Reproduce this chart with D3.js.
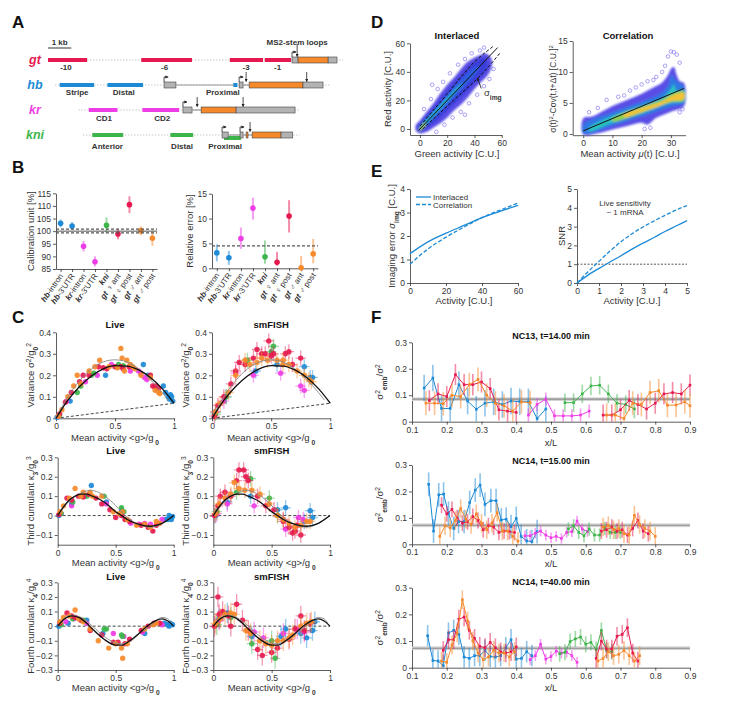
<!DOCTYPE html>
<html lang="en">
<head>
<meta charset="utf-8">
<title>Figure</title>
<style>
  body { margin:0; background:#fff; }
  svg { font-family: "Liberation Sans", Arial, Helvetica, sans-serif; }
</style>
</head>
<body>
<div id="fig"></div>
<script src="https://cdn.jsdelivr.net/npm/d3@7"></script>
<script>

////////////////////////////////////////////////// DATA

// ---- A : gene maps (kb from left origin)
const aGenes = ["gt", "hb", "kr", "kni"];
const aBackbone = { gt: [0, 12.66], hb: [0.3, 12.1], kr: [1.3, 10.8], kni: [1.5, 10.8] };
const aEnhancers = [
  { gene: "gt", s: 0.0, e: 1.7 }, { gene: "gt", s: 4.0, e: 6.2 }, { gene: "gt", s: 7.8, e: 9.25 }, { gene: "gt", s: 9.3, e: 10.45 },
  { gene: "hb", s: 0.5, e: 2.0 }, { gene: "hb", s: 2.55, e: 4.1 }, { gene: "hb", s: 7.95, e: 8.15 },
  { gene: "kr", s: 1.75, e: 3.0 }, { gene: "kr", s: 4.05, e: 5.65 },
  { gene: "kni", s: 1.9, e: 3.25 }, { gene: "kni", s: 5.25, e: 6.25 }, { gene: "kni", s: 7.55, e: 8.3, low: true }
];
const aParts = [
  { gene: "gt", t: "utr", s: 10.47, e: 10.73 }, { gene: "gt", t: "cds", s: 10.73, e: 12.02 }, { gene: "gt", t: "utr", s: 12.02, e: 12.4 },
  { gene: "hb", t: "utr", s: 4.98, e: 5.49 }, { gene: "hb", t: "intron", s: 5.49, e: 7.94 }, { gene: "hb", t: "utr", s: 8.2, e: 8.37 },
  { gene: "hb", t: "intron", s: 8.37, e: 8.63 }, { gene: "hb", t: "cds", s: 8.63, e: 10.94 }, { gene: "hb", t: "utr", s: 10.94, e: 11.8 },
  { gene: "kr", t: "utr", s: 5.79, e: 6.18 }, { gene: "kr", t: "intron", s: 6.18, e: 6.57 }, { gene: "kr", t: "cds", s: 6.57, e: 8.07 }, { gene: "kr", t: "utr", s: 8.07, e: 10.6 },
  { gene: "kni", t: "utr", s: 7.47, e: 7.73 }, { gene: "kni", t: "intron", s: 7.73, e: 8.24 }, { gene: "kni", t: "utr", s: 8.24, e: 8.37 },
  { gene: "kni", t: "intron", s: 8.37, e: 8.76 }, { gene: "kni", t: "cds", s: 8.5, e: 8.58 }, { gene: "kni", t: "cds", s: 8.76, e: 10.0 }, { gene: "kni", t: "utr", s: 10.0, e: 10.5 }
];
const aTss = [["gt", 10.47], ["hb", 4.98], ["hb", 8.2], ["kr", 5.79], ["kni", 7.47], ["kni", 8.24]];
const aMs2 = [["gt", 10.69], ["hb", 8.5], ["hb", 11.1], ["kr", 6.4], ["kr", 8.37], ["kni", 8.67]];
const aLabels = [
  ["gt", 0.77, "-10"], ["gt", 5.0, "-6"], ["gt", 8.5, "-3"], ["gt", 9.85, "-1"],
  ["hb", 1.25, "Stripe"], ["hb", 3.25, "Distal"], ["hb", 7.5, "Proximal"],
  ["kr", 2.4, "CD1"], ["kr", 4.9, "CD2"],
  ["kni", 2.55, "Anterior"], ["kni", 5.75, "Distal"], ["kni", 7.6, "Proximal"]
];

// ---- B : calibration
const bGene = ["hb", "hb", "kr", "kr", "kni", "gt ♀", "gt ♀", "gt ♂", "gt ♂"];
const bSuffix = ["-intron", "-3'UTR", "-intron", "-3'UTR", "", " ant", " post", " ant", " post"];
const bColor = ["blue", "blue", "magenta", "magenta", "green", "red", "red", "orange", "orange"];
const calibUnit = [103.1, 102.0, 94.0, 87.9, 102.3, 98.9, 110.5, 100.2, 97.2];
const calibLo = [101.6, 100.5, 91.9, 86.0, 99.3, 96.8, 107.2, 98.4, 94.2];
const calibHi = [104.6, 103.6, 96.1, 90.0, 105.4, 100.9, 113.8, 101.9, 100.2];
const calibRef = [100, 99.3, 100.8];
const relError = [3.1, 2.1, 6.0, 12.1, 2.3, 1.2, 10.5, 0.1, 2.9];
const relLo = [1.4, 0.7, 3.9, 9.8, 0.9, 0.5, 7.2, 0.0, 1.0];
const relHi = [4.8, 3.5, 8.2, 14.2, 5.6, 3.3, 13.7, 2.5, 5.9];
const relRef = 4.5;

// ---- C : cumulants [mean, value]
const varLive = {
  blue: [[0.01,0.005],[0.12,0.08],[0.42,0.2],[0.74,0.25],[0.78,0.2],[0.91,0.15],[0.93,0.12],[0.95,0.1],[0.96,0.09],[0.97,0.11],[0.98,0.1],[0.99,0.08]],
  magenta: [[0.02,0.01],[0.09,0.08],[0.25,0.17],[0.35,0.2],[0.47,0.25],[0.52,0.24],[0.63,0.22],[0.7,0.22],[0.72,0.21],[0.75,0.19],[0.77,0.18]],
  green: [[0.03,0.015],[0.18,0.12],[0.21,0.15],[0.3,0.2],[0.32,0.21],[0.53,0.25],[0.57,0.245]],
  red: [[0.03,0.02],[0.08,0.075],[0.13,0.12],[0.2,0.17],[0.23,0.2],[0.28,0.2],[0.36,0.24],[0.4,0.235],[0.43,0.23],[0.5,0.24],[0.55,0.24],[0.57,0.23],[0.62,0.24],[0.8,0.2],[0.82,0.15],[0.84,0.145],[0.85,0.15],[0.87,0.14]],
  orange: [[0.02,0.01],[0.05,0.04],[0.1,0.1],[0.15,0.15],[0.18,0.2],[0.21,0.16],[0.28,0.22],[0.33,0.24],[0.37,0.27],[0.45,0.24],[0.52,0.235],[0.55,0.325],[0.56,0.28],[0.58,0.22],[0.6,0.27],[0.63,0.25],[0.65,0.24],[0.67,0.23],[0.72,0.2],[0.8,0.19],[0.84,0.13],[0.87,0.12],[0.88,0.115]]
};
const varFish = {
  blue: [[0.03,0.03],[0.12,0.1],[0.37,0.22],[0.55,0.25],[0.78,0.24],[0.83,0.19],[0.85,0.19]],
  magenta: [[0.03,0.03],[0.1,0.08],[0.2,0.21],[0.35,0.2],[0.58,0.21],[0.75,0.15],[0.78,0.13]],
  green: [[0.03,0.02],[0.12,0.1],[0.3,0.27],[0.5,0.31],[0.52,0.335]],
  red: [[0.02,0.01],[0.05,0.06],[0.1,0.1],[0.16,0.16],[0.2,0.22],[0.23,0.26],[0.28,0.25],[0.35,0.28],[0.38,0.32],[0.42,0.3],[0.45,0.3],[0.48,0.36],[0.5,0.29],[0.52,0.3],[0.62,0.3],[0.65,0.31],[0.68,0.25],[0.75,0.28]],
  orange: [[0.03,0.03],[0.07,0.07],[0.14,0.12],[0.2,0.2],[0.28,0.27],[0.32,0.25],[0.38,0.26],[0.42,0.28],[0.47,0.27],[0.55,0.27],[0.6,0.27],[0.6,0.25],[0.65,0.25],[0.72,0.22],[0.78,0.2],[0.82,0.18],[0.84,0.17]]
};
const k3Live = {
  blue: [[0.01,0.0],[0.12,0.06],[0.29,0.155],[0.42,0.07],[0.55,0.03],[0.93,-0.02],[0.95,-0.02],[0.96,0.0],[0.97,-0.01],[0.98,-0.02],[0.99,-0.005]],
  magenta: [[0.03,0.01],[0.12,0.05],[0.23,0.1],[0.42,0.06],[0.63,-0.04],[0.7,-0.045],[0.75,-0.04],[0.8,-0.045],[0.87,-0.04],[0.9,-0.02]],
  green: [[0.03,0.01],[0.13,0.07],[0.25,0.1],[0.4,0.1],[0.55,0.04],[0.57,0.02]],
  red: [[0.01,0.005],[0.08,0.09],[0.12,0.08],[0.18,0.1],[0.22,0.095],[0.27,0.11],[0.33,0.09],[0.38,0.06],[0.45,0.03],[0.5,-0.01],[0.55,0.0],[0.58,-0.02],[0.62,-0.03],[0.72,-0.05],[0.78,-0.06],[0.82,-0.08],[0.85,-0.05]],
  orange: [[0.02,0.02],[0.05,0.05],[0.1,0.09],[0.15,0.14],[0.2,0.1],[0.22,0.12],[0.28,0.12],[0.3,0.1],[0.38,0.1],[0.48,0.02],[0.53,0.01],[0.56,0.02],[0.6,-0.02],[0.68,-0.05],[0.75,-0.045],[0.8,-0.06],[0.85,-0.03],[0.88,-0.04]]
};
const k3Fish = {
  blue: [[0.02,0.0],[0.12,0.07],[0.32,0.1],[0.55,0.03],[0.62,0.04],[0.78,-0.03],[0.83,0.025],[0.85,-0.01]],
  magenta: [[0.03,0.01],[0.12,0.06],[0.35,0.05],[0.6,-0.02],[0.62,-0.07],[0.73,-0.01],[0.77,-0.02]],
  green: [[0.03,0.02],[0.2,0.12],[0.32,0.19],[0.48,0.09],[0.55,0.0]],
  red: [[0.01,0.0],[0.04,0.05],[0.06,0.1],[0.1,0.12],[0.15,0.1],[0.2,0.18],[0.22,0.235],[0.26,0.235],[0.28,0.2],[0.3,0.18],[0.38,0.1],[0.45,0.05],[0.52,0.03],[0.6,-0.03],[0.65,-0.06],[0.68,-0.09],[0.7,-0.08],[0.72,-0.05],[0.75,-0.1]],
  orange: [[0.02,0.01],[0.05,0.06],[0.1,0.09],[0.15,0.11],[0.18,0.17],[0.22,0.14],[0.27,0.13],[0.33,0.13],[0.4,0.11],[0.48,0.06],[0.55,0.0],[0.6,-0.02],[0.65,-0.04],[0.7,-0.06],[0.75,-0.05],[0.8,-0.03],[0.83,-0.03]]
};
const k4Live = {
  blue: [[0.01,0.0],[0.09,0.02],[0.25,0.04],[0.39,-0.05],[0.75,-0.05],[0.92,0.02],[0.95,0.01],[0.96,0.0],[0.97,0.02],[0.99,0.01]],
  magenta: [[0.07,0.03],[0.14,0.05],[0.25,0.02],[0.48,-0.05],[0.57,-0.07],[0.73,-0.04],[0.9,0.01]],
  green: [[0.03,0.01],[0.13,0.05],[0.22,0.04],[0.4,-0.02],[0.42,-0.02],[0.55,-0.06],[0.56,-0.07]],
  red: [[0.02,0.02],[0.08,0.09],[0.12,0.07],[0.15,0.06],[0.2,0.04],[0.28,-0.03],[0.38,-0.06],[0.48,-0.11],[0.52,-0.11],[0.58,-0.12],[0.62,-0.09],[0.72,-0.03],[0.78,0.0],[0.83,0.02],[0.88,0.02]],
  orange: [[0.02,0.03],[0.05,0.06],[0.1,0.07],[0.15,0.11],[0.18,0.05],[0.22,0.03],[0.28,-0.02],[0.35,-0.1],[0.44,-0.15],[0.5,-0.12],[0.55,-0.15],[0.56,-0.22],[0.6,-0.12],[0.75,-0.02],[0.82,0.01],[0.85,0.02]]
};
const k4Fish = {
  blue: [[0.05,0.05],[0.12,0.09],[0.33,-0.07],[0.58,-0.07],[0.62,-0.02],[0.75,-0.05],[0.8,-0.08],[0.85,-0.03],[0.87,0.03]],
  magenta: [[0.05,0.04],[0.35,-0.04],[0.43,-0.08],[0.6,-0.05],[0.72,-0.02],[0.78,-0.04]],
  green: [[0.03,0.01],[0.15,0.06],[0.33,-0.12],[0.5,-0.1],[0.53,-0.22]],
  red: [[0.01,0.0],[0.04,0.2],[0.05,0.08],[0.08,0.1],[0.13,0.07],[0.15,0.0],[0.2,0.15],[0.25,0.04],[0.3,-0.03],[0.38,-0.16],[0.42,-0.2],[0.5,-0.18],[0.55,-0.15],[0.65,-0.09],[0.7,-0.02],[0.75,0.07],[0.78,-0.03],[0.83,0.02]],
  orange: [[0.02,0.02],[0.06,0.05],[0.1,0.08],[0.15,0.09],[0.18,0.08],[0.28,-0.03],[0.32,-0.05],[0.4,-0.1],[0.45,-0.12],[0.5,-0.13],[0.55,-0.1],[0.6,-0.1],[0.65,-0.08],[0.68,-0.06],[0.75,0.0],[0.8,0.02],[0.84,0.03]]
};
// model curves
const varBlack = [[0,0],[0.1,0.083],[0.2,0.148],[0.3,0.197],[0.4,0.23],[0.5,0.245],[0.6,0.243],[0.7,0.225],[0.8,0.19],[0.9,0.138],[1,0.07]];
const varGray = [[0,0],[0.1,0.1],[0.2,0.175],[0.3,0.23],[0.4,0.262],[0.5,0.272],[0.6,0.262],[0.7,0.23],[0.8,0.18],[0.9,0.12],[0.95,0.085]];
const varPoisson = [[0,0],[1,0.07]];
const k3Black = [[0,0],[0.05,0.045],[0.1,0.08],[0.15,0.1],[0.2,0.11],[0.25,0.11],[0.3,0.1],[0.4,0.07],[0.5,0.02],[0.55,0.0],[0.6,-0.02],[0.7,-0.045],[0.8,-0.055],[0.9,-0.04],[1,0]];
const k3Gray = [[0,0],[0.05,0.04],[0.1,0.075],[0.2,0.115],[0.28,0.13],[0.35,0.12],[0.45,0.08],[0.55,0.02],[0.6,-0.01],[0.7,-0.045],[0.8,-0.06],[0.9,-0.04],[0.97,-0.01]];
const k4Black = [[0,0],[0.06,0.05],[0.12,0.07],[0.18,0.06],[0.25,0.02],[0.3,-0.02],[0.4,-0.09],[0.5,-0.13],[0.55,-0.13],[0.62,-0.1],[0.7,-0.05],[0.77,0.0],[0.85,0.04],[0.9,0.05],[0.95,0.035],[1,0]];
const k4Gray = [[0,0],[0.06,0.055],[0.12,0.075],[0.2,0.06],[0.3,0.0],[0.4,-0.07],[0.5,-0.115],[0.55,-0.12],[0.65,-0.09],[0.72,-0.04],[0.8,0.0],[0.85,0.04],[0.9,0.06],[0.95,0.05],[0.98,0.02]];
const zeroLine = [[0,0],[1,0]];

// ---- D : density clouds (outlines of the density levels) [x, y]
const dInterOuter = [[-3,-1],[-3,3],[0,6],[5,12],[10,18],[15,25],[20,31],[25,36],[30,42],[35,47],[40,50],[45,52],[48,53],[52,50],[53,45],[50,38],[45,33],[40,28],[35,22],[30,17],[25,13],[20,8],[15,4],[10,1],[5,-2],[0,-3]];
const dInterMid = [[-1.5,-1],[-1,3],[10,15],[20,27],[30,38],[40,47],[47,50],[50,44],[45,37],[40,32],[30,22],[20,13],[10,4],[0,-2]];
const dInterInner = [[-0.5,-0.5],[0,2.5],[10,13],[20,24],[30,34.5],[40,43],[44,44],[40,37.5],[30,27],[20,17],[10,7],[0,-1]];
const dInterCore = [[-0.5,-0.5],[0,1.5],[10,11.8],[20,22],[28,30],[32,32],[28,28],[20,19],[10,8.8],[0,-0.5]];
const dInterPeak = [[-1,-1],[1,2],[4,4.5],[4,2.5],[1,-0.5]];
const dInterOutliers = [[3,14],[8,21],[13,28],[17,33],[22,39],[28,45],[33,49],[38,53],[44,55],[47,57],[12,-2],[18,3],[24,8],[30,12],[36,18],[42,24],[47,30],[51,35],[54,42],[9,31],[33,10]];
const dInterFit = [[-1,-1],[57,57]];
const dInterUpper = [[0,2],[20,24.5],[40,47],[54,58]];
const dInterLower = [[2,0],[24.5,20],[47,40],[58.6,53]];
const dInterArrow = [[45,28.4],[42.3,35.5]];
const dCorrOuter = [[0,2.5],[3,2.8],[6,3.5],[10,4.5],[15,5.5],[20,6.5],[24,7.5],[27,8.3],[29,9.5],[30,10.5],[31,10.8],[32,9.5],[33,8.5],[34.5,8.2],[34.5,4.5],[30,3.6],[25,2.6],[22,1.5],[20,1.8],[15,1.3],[10,0.7],[5,0.1],[0,-0.1]];
const dCorrBand = [[0,1.5],[10,3.5],[20,5.2],[26,6.4],[29,7.8],[30.3,9.6],[31.3,8.8],[34.5,7.6],[34.5,5],[30,4.4],[20,2.8],[10,1.3],[0,0.1]];
const dCorrCyan = [[2,1],[10,2.9],[20,4.6],[27,5.8],[30,7.3],[31,8],[32,7],[34.5,7],[34.5,5.3],[30,5],[20,3.3],[10,1.8],[2,0.4]];
const dCorrGreen = [[10,2.5],[20,4.4],[27,5.5],[31,6.6],[34.5,6.9],[34.5,5.4],[30,5.1],[20,3.4],[10,2.0]];
const dCorrYellow = [[14,3.2],[20,4.2],[25,4.9],[28,5.5],[31,6.3],[34.5,6.6],[34.5,5.7],[30,5.3],[25,4.3],[20,3.6],[14,2.7]];
const dCorrOutliers = [[2,3.5],[5,4.2],[8,5.5],[12,6],[14,6.2],[16,7],[18,7.5],[20,8],[22,8.5],[24,8.7],[25,9.2],[27,10],[28,11],[29,12.5],[30,13.3],[31,13.2],[32,12.8],[33,11.5],[33,3.5],[34,4],[23,1],[21,0.8]];
const dCorrFit = [[0,0.5],[34.5,7.35]];

// ---- E
const eAct = [0, 10, 20, 30, 40, 50, 60];
const eInterlaced = [1.25, 1.75, 2.12, 2.45, 2.78, 3.05, 3.3];
const eCorrelation = [0.8, 1.45, 1.95, 2.38, 2.78, 3.1, 3.4];
const snrAct = [0, 0.5, 1, 1.5, 2, 2.5, 3, 3.5, 4, 4.5, 5];
const snrInterlaced = [0, 0.42, 0.78, 1.12, 1.45, 1.8, 2.12, 2.42, 2.74, 3.03, 3.32];
const snrCorrelation = [0, 0.6, 1.15, 1.7, 2.2, 2.62, 2.98, 3.3, 3.6, 3.88, 4.12];
const snrThreshold = 1;

// ---- F : embryo-to-embryo variance, segments per colour [x/L, value]
const nc13 = {
  blue: [[[0.135,0.127],[0.16,0.165],[0.185,0.05],[0.21,0.05],[0.235,0.14],[0.26,0.078],[0.285,0.047],[0.31,0.07],[0.335,0.075],[0.36,0.065],[0.385,0.078],[0.41,0.076],[0.435,0.075],[0.46,0.012],[0.485,0.048]]],
  orange: [[[0.14,0.07],[0.165,0.07],[0.19,0.068],[0.215,0.1],[0.24,0.095],[0.265,0.14],[0.29,0.16],[0.315,0.1],[0.34,0.07],[0.365,0.06],[0.39,0.04],[0.415,0.075],[0.44,0.072]],
           [[0.66,0.025],[0.685,0.025],[0.71,0.012],[0.735,0.07],[0.76,0.065],[0.785,0.11],[0.81,0.117],[0.835,0.062],[0.86,0.063],[0.885,0.075],[0.9,0.06]]],
  red: [[[0.15,0.08],[0.175,0.105],[0.2,0.095],[0.225,0.178],[0.25,0.14],[0.275,0.14],[0.3,0.15],[0.325,0.125],[0.35,0.045],[0.375,0.04],[0.4,0.035]],
        [[0.65,0.025],[0.675,0.025],[0.7,0.045],[0.725,0.08],[0.75,0.065],[0.775,0.048],[0.8,0.07],[0.825,0.105],[0.85,0.11],[0.875,0.105],[0.9,0.138]]],
  magenta: [[[0.435,0.025],[0.46,0.065],[0.485,0.085],[0.51,0.022],[0.535,0.022],[0.56,0.022],[0.585,0.025],[0.61,0.04]]],
  green: [[[0.54,0.072],[0.565,0.072],[0.59,0.105],[0.615,0.135],[0.64,0.138],[0.665,0.105],[0.69,0.07],[0.715,0.065],[0.74,0.048]]]
};
const nc14early = {
  blue: [[[0.148,0.227],[0.162,0.05],[0.177,0.187],[0.191,0.19],[0.205,0.117],[0.22,0.06],[0.234,0.086],[0.25,0.086],[0.266,0.158],[0.282,0.205],[0.296,0.224],[0.31,0.151],[0.327,0.165],[0.342,0.165],[0.357,0.092],[0.371,0.095],[0.385,0.067],[0.4,0.098],[0.414,0.03],[0.43,0.013],[0.445,0.01],[0.46,0.048]]],
  red: [[[0.185,0.148],[0.2,0.115],[0.215,0.132],[0.23,0.1],[0.245,0.08],[0.26,0.085],[0.275,0.105],[0.29,0.09],[0.305,0.055],[0.32,0.07],[0.335,0.065],[0.35,0.045],[0.365,0.05],[0.38,0.048],[0.395,0.045]],
        [[0.645,0.05],[0.66,0.055],[0.675,0.065],[0.69,0.05],[0.705,0.055],[0.72,0.035],[0.735,0.06],[0.75,0.09],[0.765,0.05],[0.78,0.04]]],
  orange: [[[0.18,0.03],[0.195,0.07],[0.21,0.062],[0.225,0.09],[0.24,0.135],[0.255,0.095],[0.27,0.075],[0.285,0.115],[0.3,0.08],[0.315,0.055],[0.33,0.08],[0.345,0.12],[0.36,0.05],[0.375,0.05],[0.39,0.03],[0.405,0.012]],
           [[0.65,0.065],[0.665,0.07],[0.68,0.055],[0.695,0.06],[0.71,0.04],[0.725,0.035],[0.74,0.11],[0.755,0.075],[0.77,0.06],[0.785,0.05],[0.8,0.03]]],
  magenta: [[[0.425,0.032],[0.44,0.032],[0.455,0.042],[0.47,0.05],[0.485,0.035],[0.5,0.025],[0.515,0.03],[0.53,0.022],[0.545,0.045],[0.56,0.048],[0.575,0.088],[0.59,0.058],[0.605,0.048]]],
  green: [[[0.55,0.058],[0.565,0.07],[0.58,0.045],[0.595,0.032],[0.61,0.058],[0.625,0.035],[0.64,0.035],[0.655,0.06],[0.67,0.045],[0.685,0.045],[0.7,0.045]]]
};
const nc14late = {
  blue: [[[0.145,0.12],[0.16,0.027],[0.175,0.025],[0.19,0.008],[0.205,0.13],[0.22,0.14],[0.235,0.125],[0.25,0.04],[0.265,0.035],[0.28,0.045],[0.295,0.045],[0.31,0.065],[0.325,0.042],[0.34,0.04],[0.355,0.045],[0.37,0.075],[0.385,0.105],[0.4,0.032],[0.415,0.035],[0.43,0.06],[0.445,0.045]]],
  red: [[[0.19,0.065],[0.205,0.105],[0.22,0.105],[0.235,0.182],[0.25,0.19],[0.265,0.14],[0.28,0.11],[0.295,0.08],[0.31,0.075],[0.325,0.095],[0.34,0.075],[0.355,0.06],[0.37,0.055],[0.385,0.06],[0.4,0.078]],
        [[0.63,0.035],[0.645,0.1],[0.66,0.07],[0.675,0.07],[0.69,0.118],[0.705,0.125],[0.72,0.15],[0.735,0.055],[0.75,0.025]]],
  orange: [[[0.185,0.025],[0.2,0.02],[0.215,0.085],[0.23,0.13],[0.245,0.255],[0.26,0.175],[0.275,0.1],[0.29,0.055],[0.305,0.03],[0.32,0.04],[0.335,0.065],[0.35,0.055],[0.365,0.055],[0.38,0.04],[0.395,0.06]],
           [[0.635,0.025],[0.65,0.035],[0.665,0.06],[0.68,0.045],[0.695,0.05],[0.71,0.065],[0.725,0.045],[0.74,0.025],[0.755,0.045]]],
  magenta: [[[0.44,0.03],[0.455,0.045],[0.47,0.088],[0.485,0.032],[0.5,0.042],[0.515,0.062],[0.53,0.055],[0.545,0.058],[0.56,0.045],[0.575,0.02]]],
  green: [[[0.525,0.052],[0.54,0.058],[0.555,0.098],[0.57,0.108],[0.585,0.115],[0.6,0.088],[0.615,0.095],[0.63,0.068],[0.645,0.14],[0.66,0.065],[0.675,0.06]]]
};
const fErrNc13 = { blue: 0.05, orange: 0.045, red: 0.04, magenta: 0.025, green: 0.035 };
const fErrNc14early = { blue: 0.045, orange: 0.035, red: 0.03, magenta: 0.02, green: 0.025 };
const fErrNc14late = { blue: 0.04, orange: 0.035, red: 0.035, magenta: 0.02, green: 0.03 };
const fRef = [0.085, 0.072, 0.073];

////////////////////////////////////////////////// SETUP

const FONT = '"Liberation Sans", Arial, Helvetica, sans-serif';
const INK = "#333";
const COL = { red: "#e5194f", blue: "#1d8ad6", magenta: "#ee3ce6", green: "#3db54b", orange: "#f6892b" };
const GENECOL = { gt: COL.red, hb: COL.blue, kr: COL.magenta, kni: COL.green };
const ORDER = ["blue", "magenta", "green", "red", "orange"];

const svg = d3.select("#fig").append("svg").attr("width", 734).attr("height", 706);

// rich text: parts = [text, style] ; style may contain i, b, sup, sub
function rich(sel, parts) {
  parts.forEach(function (p) {
    const t = Array.isArray(p) ? p[0] : p;
    const s = Array.isArray(p) ? p[1] : "";
    const ts = sel.append("tspan").text(t);
    if (s.includes("sup")) ts.attr("font-size", "0.7em").attr("baseline-shift", "super");
    if (s.includes("sub")) ts.attr("font-size", "0.7em").attr("baseline-shift", "sub");
    if (s.includes("i")) ts.attr("font-style", "italic");
    if (s.includes("b")) ts.attr("font-weight", "bold");
  });
  return sel;
}
function text(x, y, parts, o) {
  o = o || {};
  const t = svg.append("text").attr("x", x).attr("y", y)
    .attr("text-anchor", o.anchor || "middle").attr("font-size", o.size || 9.5)
    .attr("fill", o.fill || INK).attr("font-weight", o.bold ? "bold" : null);
  return rich(t, typeof parts === "string" ? [parts] : parts);
}
function ylabel(x, y, parts, size) {
  const t = svg.append("text").attr("transform", "translate(" + x + "," + y + ") rotate(-90)")
    .attr("text-anchor", "middle").attr("font-size", size || 9.5).attr("fill", INK);
  return rich(t, parts);
}
function panelLabel(x, y, s) {
  svg.append("text").attr("x", x).attr("y", y).attr("font-size", 17).attr("font-weight", "bold").attr("fill", "#111").text(s);
}
function axes(x, y, xt, yt, xfmt) {
  const f = d3.format("~g");
  const g = svg.append("g");
  g.append("g").attr("transform", "translate(0," + y.range()[0] + ")")
    .call(d3.axisBottom(x).tickValues(xt).tickFormat(xfmt || f).tickSize(3).tickSizeOuter(0).tickPadding(2));
  g.append("g").attr("transform", "translate(" + x.range()[0] + ",0)")
    .call(d3.axisLeft(y).tickValues(yt).tickFormat(f).tickSize(3).tickSizeOuter(0).tickPadding(2));
  g.selectAll("text").attr("font-size", 8.5).attr("fill", INK).attr("font-family", FONT);
  g.selectAll("path, line").attr("stroke", INK).attr("stroke-width", 0.8);
  return g;
}
function linePath(x, y, curve) {
  return d3.line().x(function (d) { return x(d[0]); }).y(function (d) { return y(d[1]); }).curve(curve || d3.curveLinear);
}

////////////////////////////////////////////////// PANEL A

panelLabel(12, 28, "A");
(function () {
  const x = d3.scaleLinear().domain([0, 12.7]).range([48, 344]);
  const row = d3.scalePoint().domain(aGenes).range([60, 135]);
  const labelDy = { gt: 10, hb: 9.5, kr: 11, kni: 14 };
  const g = svg.append("g");

  // scale bar
  g.append("line").attr("x1", x(0)).attr("x2", x(1)).attr("y1", 48).attr("y2", 48).attr("stroke", INK).attr("stroke-width", 1);
  text(x(0.5), 45, "1 kb", { size: 8, bold: true });

  aGenes.forEach(function (gene) {
    const yy = row(gene);
    g.append("line").attr("x1", x(aBackbone[gene][0])).attr("x2", x(aBackbone[gene][1]))
      .attr("y1", yy).attr("y2", yy).attr("stroke", "#c8c8c8").attr("stroke-width", 1).attr("stroke-dasharray", "1.5,1.5");
    text(35, yy + 4, [[gene, "ib"]], { size: 12.5, fill: GENECOL[gene] });
  });

  g.selectAll(".enh").data(aEnhancers).enter().append("rect")
    .attr("x", function (d) { return x(d.s); }).attr("width", function (d) { return x(d.e) - x(d.s) - 0.5; })
    .attr("y", function (d) { return row(d.gene) - 2 + (d.low ? 3 : 0); }).attr("height", 4)
    .attr("fill", function (d) { return GENECOL[d.gene]; });

  aParts.forEach(function (d) {
    const yy = row(d.gene);
    if (d.t === "intron") {
      g.append("line").attr("x1", x(d.s)).attr("x2", x(d.e)).attr("y1", yy).attr("y2", yy).attr("stroke", "#999").attr("stroke-width", 1.2);
    } else {
      g.append("rect").attr("x", x(d.s)).attr("width", x(d.e) - x(d.s)).attr("y", yy - 3).attr("height", 6)
        .attr("fill", d.t === "cds" ? COL.orange : "#b3b3b3").attr("stroke", "#444").attr("stroke-width", 0.6);
    }
  });

  const defs = svg.append("defs");
  defs.append("marker").attr("id", "ah").attr("viewBox", "0 0 6 6").attr("refX", 5).attr("refY", 3)
    .attr("markerWidth", 4).attr("markerHeight", 4).attr("orient", "auto")
    .append("path").attr("d", "M0,0 L6,3 L0,6 Z").attr("fill", "#222");

  aTss.forEach(function (d) {
    const xx = x(d[1]), yy = row(d[0]);
    g.append("path").attr("d", "M" + xx + "," + (yy - 3) + " V" + (yy - 8) + " H" + (xx + 4))
      .attr("fill", "none").attr("stroke", "#222").attr("stroke-width", 0.8).attr("marker-end", "url(#ah)");
  });
  aMs2.forEach(function (d) {
    const xx = x(d[1]), yy = row(d[0]);
    g.append("line").attr("x1", xx).attr("x2", xx).attr("y1", yy - (d[0] === "gt" ? 16 : 13)).attr("y2", yy - 3.5)
      .attr("stroke", "#222").attr("stroke-width", 0.8).attr("marker-end", "url(#ah)");
  });
  text(x(10.69), 45, "MS2-stem loops", { size: 8, bold: true });

  aLabels.forEach(function (d) {
    text(x(d[1]), row(d[0]) + labelDy[d[0]], d[2], { size: 8, fill: "#333" }).attr("font-weight", "bold");
  });
})();

////////////////////////////////////////////////// PANEL B

panelLabel(12, 173, "B");
function bPlot(xr, yr, yDom, yTicks, vals, lo, hi, ylab, ylabX) {
  const x = d3.scaleLinear().domain([0.6, 9.4]).range(xr);
  const y = d3.scaleLinear().domain(yDom).range(yr);
  const idx = d3.range(1, 10);
  axes(x, y, idx, yTicks, function () { return ""; });
  const g = svg.append("g");
  g.selectAll(".eb").data(idx).enter().append("line")
    .attr("x1", function (i) { return x(i); }).attr("x2", function (i) { return x(i); })
    .attr("y1", function (i) { return y(lo[i - 1]); }).attr("y2", function (i) { return y(hi[i - 1]); })
    .attr("stroke", function (i) { return COL[bColor[i - 1]]; }).attr("stroke-width", 2).attr("stroke-opacity", 0.5);
  g.selectAll(".pt").data(idx).enter().append("circle")
    .attr("cx", function (i) { return x(i); }).attr("cy", function (i) { return y(vals[i - 1]); }).attr("r", 2.8)
    .attr("fill", function (i) { return COL[bColor[i - 1]]; });
  idx.forEach(function (i) {
    const t = svg.append("text").attr("transform", "translate(" + (x(i) + 3) + "," + (yr[0] + 7) + ") rotate(-55)")
      .attr("text-anchor", "end").attr("font-size", 8).attr("fill", INK);
    rich(t, [[bGene[i - 1], "ib"], [bSuffix[i - 1], ""]]);
  });
  ylabel(ylabX, (yr[0] + yr[1]) / 2, [ylab]);
  return { x: x, y: y, g: g };
}
(function () {
  const p = bPlot([56, 157], [269, 193.3], [85, 115], [85, 90, 95, 100, 105, 110, 115], calibUnit, calibLo, calibHi, "Calibration unit [%]", 34);
  p.g.append("line").attr("x1", 56).attr("x2", 157).attr("y1", p.y(calibRef[0])).attr("y2", p.y(calibRef[0])).attr("stroke", "#555").attr("stroke-width", 1);
  [calibRef[1], calibRef[2]].forEach(function (v) {
    p.g.append("line").attr("x1", 56).attr("x2", 157).attr("y1", p.y(v)).attr("y2", p.y(v))
      .attr("stroke", "#555").attr("stroke-width", 1.2).attr("stroke-dasharray", "3,2");
  });
  const q = bPlot([212, 318], [268.3, 193.7], [0, 15], [0, 5, 10, 15], relError, relLo, relHi, "Relative error [%]", 193);
  q.g.append("line").attr("x1", 212).attr("x2", 318).attr("y1", q.y(relRef)).attr("y2", q.y(relRef))
    .attr("stroke", "#555").attr("stroke-width", 1.2).attr("stroke-dasharray", "3,2");
})();

////////////////////////////////////////////////// PANEL C

panelLabel(12, 323, "C");
function cPlot(o) {
  const x = d3.scaleLinear().domain([0, 1]).range(o.xr);
  const y = d3.scaleLinear().domain(o.yDom).range(o.yr);
  axes(x, y, [0, 0.5, 1], o.yTicks);
  const g = svg.append("g");
  const ln = linePath(x, y, d3.curveMonotoneX);
  g.append("path").attr("d", linePath(x, y)(o.dashed)).attr("fill", "none").attr("stroke", "#333").attr("stroke-width", 0.9).attr("stroke-dasharray", "3,2");
  ORDER.forEach(function (c) {
    const pts = o.data[c];
    g.selectAll(null).data(pts).enter().append("path")
      .attr("d", function (d) {
        return "M" + x(d[0] - o.ex) + "," + y(d[1]) + "H" + x(d[0] + o.ex) + "M" + x(d[0]) + "," + y(d[1] - o.ey) + "V" + y(d[1] + o.ey);
      })
      .attr("stroke", COL[c]).attr("stroke-width", 1.3).attr("stroke-opacity", 0.45);
    g.selectAll(null).data(pts).enter().append("circle")
      .attr("cx", function (d) { return x(d[0]); }).attr("cy", function (d) { return y(d[1]); })
      .attr("r", 2.7).attr("fill", COL[c]).attr("fill-opacity", 0.9);
  });
  g.append("path").attr("d", ln(o.gray)).attr("fill", "none").attr("stroke", "#8a8a8a").attr("stroke-width", 0.9);
  g.append("path").attr("d", ln(o.black)).attr("fill", "none").attr("stroke", "#111").attr("stroke-width", 1.3);
  const cx = (o.xr[0] + o.xr[1]) / 2;
  text(cx, o.titleY, o.title, { size: 9.5, bold: true, fill: "#111" });
  text(cx, o.xlabY, ["Mean activity <g>/g", [" 0", "sub"]], { size: 9.5 });
  ylabel(o.ylabX, (o.yr[0] + o.yr[1]) / 2, o.ylab, 9.5);
}
const liveErr = { ex: 0.012, ey: 0.012 };
const fishErr = { ex: 0.045, ey: 0.035 };
const varLab = ["Variance σ", ["2", "sup"], "/g", ["0", "sub"], ["2", "sup"]];
const k3Lab = ["Third cumulant  κ", ["3", "sub"], "/g", ["0", "sub"], ["3", "sup"]];
const k4Lab = ["Fourth cumulant  κ", ["4", "sub"], "/g", ["0", "sub"], ["4", "sup"]];
[
  { xr: [56, 174], yr: [418.3, 332.3], yDom: [0, 0.4], yTicks: [0, 0.1, 0.2, 0.3, 0.4], data: varLive, black: varBlack, gray: varGray, dashed: varPoisson, title: "Live", titleY: 328, xlabY: 441, ylab: varLab, ylabX: 34, ex: liveErr.ex, ey: liveErr.ey },
  { xr: [212, 330.3], yr: [418.3, 332.3], yDom: [0, 0.4], yTicks: [0, 0.1, 0.2, 0.3, 0.4], data: varFish, black: varBlack, gray: varGray, dashed: varPoisson, title: "smFISH", titleY: 328, xlabY: 441, ylab: varLab, ylabX: 189, ex: fishErr.ex, ey: fishErr.ey },
  { xr: [57.7, 173.7], yr: [544.7, 457.3], yDom: [-0.15, 0.3], yTicks: [-0.1, 0, 0.1, 0.2, 0.3], data: k3Live, black: k3Black, gray: k3Gray, dashed: zeroLine, title: "Live", titleY: 454, xlabY: 566, ylab: k3Lab, ylabX: 34, ex: liveErr.ex, ey: 0.01 },
  { xr: [213.3, 330], yr: [544.7, 457.3], yDom: [-0.15, 0.3], yTicks: [-0.1, 0, 0.1, 0.2, 0.3], data: k3Fish, black: k3Black, gray: k3Gray, dashed: zeroLine, title: "smFISH", titleY: 454, xlabY: 566, ylab: k3Lab, ylabX: 189, ex: fishErr.ex, ey: 0.04 },
  { xr: [57.7, 173.7], yr: [670, 582.3], yDom: [-0.3, 0.3], yTicks: [-0.3, -0.2, -0.1, 0, 0.1, 0.2, 0.3], data: k4Live, black: k4Black, gray: k4Gray, dashed: zeroLine, title: "Live", titleY: 580, xlabY: 691, ylab: k4Lab, ylabX: 34, ex: liveErr.ex, ey: 0.015 },
  { xr: [213.3, 330], yr: [670, 582.3], yDom: [-0.3, 0.3], yTicks: [-0.3, -0.2, -0.1, 0, 0.1, 0.2, 0.3], data: k4Fish, black: k4Black, gray: k4Gray, dashed: zeroLine, title: "smFISH", titleY: 580, xlabY: 691, ylab: k4Lab, ylabX: 189, ex: fishErr.ex, ey: 0.07 }
].forEach(cPlot);

////////////////////////////////////////////////// PANEL D

panelLabel(371, 28, "D");
const blurF = svg.append("defs").append("filter").attr("id", "soft").attr("x", "-10%").attr("y", "-10%").attr("width", "120%").attr("height", "120%");
blurF.append("feGaussianBlur").attr("stdDeviation", 1.2);
function cloud(g, x, y, poly, fill, op) {
  g.append("path").attr("d", linePath(x, y, d3.curveCatmullRomClosed)(poly)).attr("fill", fill).attr("fill-opacity", op || 1);
}
function outliers(g, x, y, pts) {
  g.selectAll(null).data(pts).enter().append("circle")
    .attr("cx", function (d) { return x(d[0]); }).attr("cy", function (d) { return y(d[1]); }).attr("r", 1.8)
    .attr("fill", "none").attr("stroke", "#7466f0").attr("stroke-width", 0.6);
}
(function () {
  const x = d3.scaleLinear().domain([-7.3, 60]).range([410, 501.7]);
  const y = d3.scaleLinear().domain([-4.2, 60]).range([135, 43.3]);
  axes(x, y, [0, 20, 40, 60], [0, 20, 40, 60]);
  const g = svg.append("g");
  outliers(g, x, y, dInterOutliers);
  const c = g.append("g").attr("filter", "url(#soft)");
  cloud(c, x, y, dInterOuter, "#5a4ee6");
  cloud(c, x, y, dInterMid, "#3b3dd8");
  cloud(c, x, y, dInterInner, "#2f5fe2");
  cloud(c, x, y, dInterCore, "#27b6cc");
  cloud(c, x, y, dInterPeak, "#a9d43c");
  const ln = linePath(x, y);
  g.append("path").attr("d", ln(dInterFit)).attr("stroke", "#111").attr("stroke-width", 1).attr("fill", "none");
  [dInterUpper, dInterLower].forEach(function (d) {
    g.append("path").attr("d", linePath(x, y, d3.curveMonotoneX)(d)).attr("stroke", "#111").attr("stroke-width", 1)
      .attr("stroke-dasharray", "3,2").attr("fill", "none");
  });
  g.append("path").attr("d", ln(dInterArrow)).attr("stroke", "#111").attr("stroke-width", 0.8).attr("marker-end", "url(#ah)");
  text(x(47), y(23), ["σ", ["img", "sub"]], { size: 9.5, anchor: "start" });
  text(457, 39, "Interlaced", { bold: true, fill: "#111" });
  text(457, 157, "Green activity [C.U.]");
  ylabel(391, 89, ["Red activity [C.U.]"]);
})();
(function () {
  const x = d3.scaleLinear().domain([-3.6, 35]).range([572.7, 685.5]);
  const y = d3.scaleLinear().domain([-0.2, 15]).range([135.2, 41]);
  axes(x, y, [0, 10, 20, 30], [0, 5, 10, 15]);
  const g = svg.append("g");
  outliers(g, x, y, dCorrOutliers);
  const c = g.append("g").attr("filter", "url(#soft)");
  cloud(c, x, y, dCorrOuter, "#5a4ee6");
  cloud(c, x, y, dCorrBand, "#2f78e2");
  cloud(c, x, y, dCorrCyan, "#2cc1c0");
  cloud(c, x, y, dCorrGreen, "#8fd150");
  cloud(c, x, y, dCorrYellow, "#f4c238");
  g.append("path").attr("d", linePath(x, y)(dCorrFit)).attr("stroke", "#111").attr("stroke-width", 1).attr("fill", "none");
  text(628, 39, "Correlation", { bold: true, fill: "#111" });
  text(630, 157, ["Mean activity ", ["μ", "i"], "(t) [C.U.]"]);
  ylabel(556, 89, ["σ(t)", ["2", "sup"], "-Cov(t,t+Δt) [C.U.]", ["2", "sup"]], 8.5);
})();

////////////////////////////////////////////////// PANEL E

panelLabel(371, 177, "E");
(function () {
  const x = d3.scaleLinear().domain([0, 60]).range([410, 518]);
  const y = d3.scaleLinear().domain([0, 4]).range([283, 189]);
  axes(x, y, [0, 20, 40, 60], [0, 1, 2, 3, 4]);
  const ln = d3.line().x(function (d, i) { return x(eAct[i]); }).y(function (d) { return y(d); }).curve(d3.curveMonotoneX);
  svg.append("path").attr("d", ln(eInterlaced)).attr("fill", "none").attr("stroke", COL.blue).attr("stroke-width", 1.3);
  svg.append("path").attr("d", ln(eCorrelation)).attr("fill", "none").attr("stroke", COL.blue).attr("stroke-width", 1.3).attr("stroke-dasharray", "4,2");
  svg.append("line").attr("x1", 416).attr("x2", 431).attr("y1", 197).attr("y2", 197).attr("stroke", COL.blue).attr("stroke-width", 1.3);
  svg.append("line").attr("x1", 416).attr("x2", 431).attr("y1", 204.5).attr("y2", 204.5).attr("stroke", COL.blue).attr("stroke-width", 1.3).attr("stroke-dasharray", "4,2");
  text(433, 200, "Interlaced", { size: 8, anchor: "start" });
  text(433, 207.5, "Correlation", { size: 8, anchor: "start" });
  text(464, 304, "Activity [C.U.]");
  ylabel(395, 236, ["Imaging error ", ["σ", "i"], ["img", "sub"], " [C.U.]"]);
})();
(function () {
  const x = d3.scaleLinear().domain([0, 5]).range([577, 687]);
  const y = d3.scaleLinear().domain([0, 5]).range([283, 189]);
  axes(x, y, [0, 1, 2, 3, 4, 5], [0, 1, 2, 3, 4, 5]);
  svg.append("line").attr("x1", x(0)).attr("x2", x(5)).attr("y1", y(snrThreshold)).attr("y2", y(snrThreshold))
    .attr("stroke", "#444").attr("stroke-width", 0.9).attr("stroke-dasharray", "2,1.5");
  const ln = d3.line().x(function (d, i) { return x(snrAct[i]); }).y(function (d) { return y(d); }).curve(d3.curveMonotoneX);
  svg.append("path").attr("d", ln(snrInterlaced)).attr("fill", "none").attr("stroke", COL.blue).attr("stroke-width", 1.3);
  svg.append("path").attr("d", ln(snrCorrelation)).attr("fill", "none").attr("stroke", COL.blue).attr("stroke-width", 1.3).attr("stroke-dasharray", "4,2");
  text(625, 206, "Live sensitivity", { size: 8 });
  text(625, 215, "~ 1 mRNA", { size: 8 });
  text(632, 304, "Activity [C.U.]");
  ylabel(565, 236, ["SNR"]);
})();

////////////////////////////////////////////////// PANEL F

panelLabel(371, 323, "F");
function fPlot(yr, data, err, ref, title, titleY, xlabY) {
  const x = d3.scaleLinear().domain([0.1, 0.9]).range([412, 690]);
  const y = d3.scaleLinear().domain([0, 0.3]).range(yr);
  axes(x, y, [0.1, 0.2, 0.3, 0.4, 0.5, 0.6, 0.7, 0.8, 0.9], [0, 0.1, 0.2, 0.3]);
  const g = svg.append("g");
  g.append("rect").attr("x", x(0.1)).attr("width", x(0.9) - x(0.1)).attr("y", y(ref + 0.007)).attr("height", y(ref - 0.007) - y(ref + 0.007))
    .attr("fill", "#d4d4d4");
  g.append("line").attr("x1", x(0.1)).attr("x2", x(0.9)).attr("y1", y(ref)).attr("y2", y(ref)).attr("stroke", "#8c8c8c").attr("stroke-width", 1.2);
  const ln = linePath(x, y);
  ORDER.forEach(function (c) {
    data[c].forEach(function (seg) {
      g.selectAll(null).data(seg).enter().append("line")
        .attr("x1", function (d) { return x(d[0]); }).attr("x2", function (d) { return x(d[0]); })
        .attr("y1", function (d) { return y(Math.max(0, d[1] - err[c])); }).attr("y2", function (d) { return y(Math.min(0.3, d[1] + err[c])); })
        .attr("stroke", COL[c]).attr("stroke-width", 1.6).attr("stroke-opacity", 0.5);
      g.append("path").attr("d", ln(seg)).attr("fill", "none").attr("stroke", COL[c]).attr("stroke-width", 1);
      g.selectAll(null).data(seg).enter().append("rect")
        .attr("x", function (d) { return x(d[0]) - 1.3; }).attr("y", function (d) { return y(d[1]) - 1.3; })
        .attr("width", 2.6).attr("height", 2.6).attr("fill", COL[c]);
    });
  });
  text(551, titleY, title, { size: 9, bold: true, fill: "#111" });
  text(551, xlabY, "x/L");
  const t = svg.append("text").attr("transform", "translate(383," + ((yr[0] + yr[1]) / 2) + ") rotate(-90)")
    .attr("text-anchor", "middle").attr("font-size", 9.5).attr("fill", INK);
  rich(t, ["σ", ["2", "sup"], ["emb", "sub"], "/σ", ["2", "sup"]]);
}
fPlot([421.7, 342.3], nc13, fErrNc13, fRef[0], "NC13, t=14.00 min", 339, 446);
fPlot([544.3, 465], nc14early, fErrNc14early, fRef[1], "NC14, t=15.00 min", 464, 567);
fPlot([667.7, 587.7], nc14late, fErrNc14late, fRef[2], "NC14, t=40.00 min", 585, 691);

</script>
</body>
</html>
